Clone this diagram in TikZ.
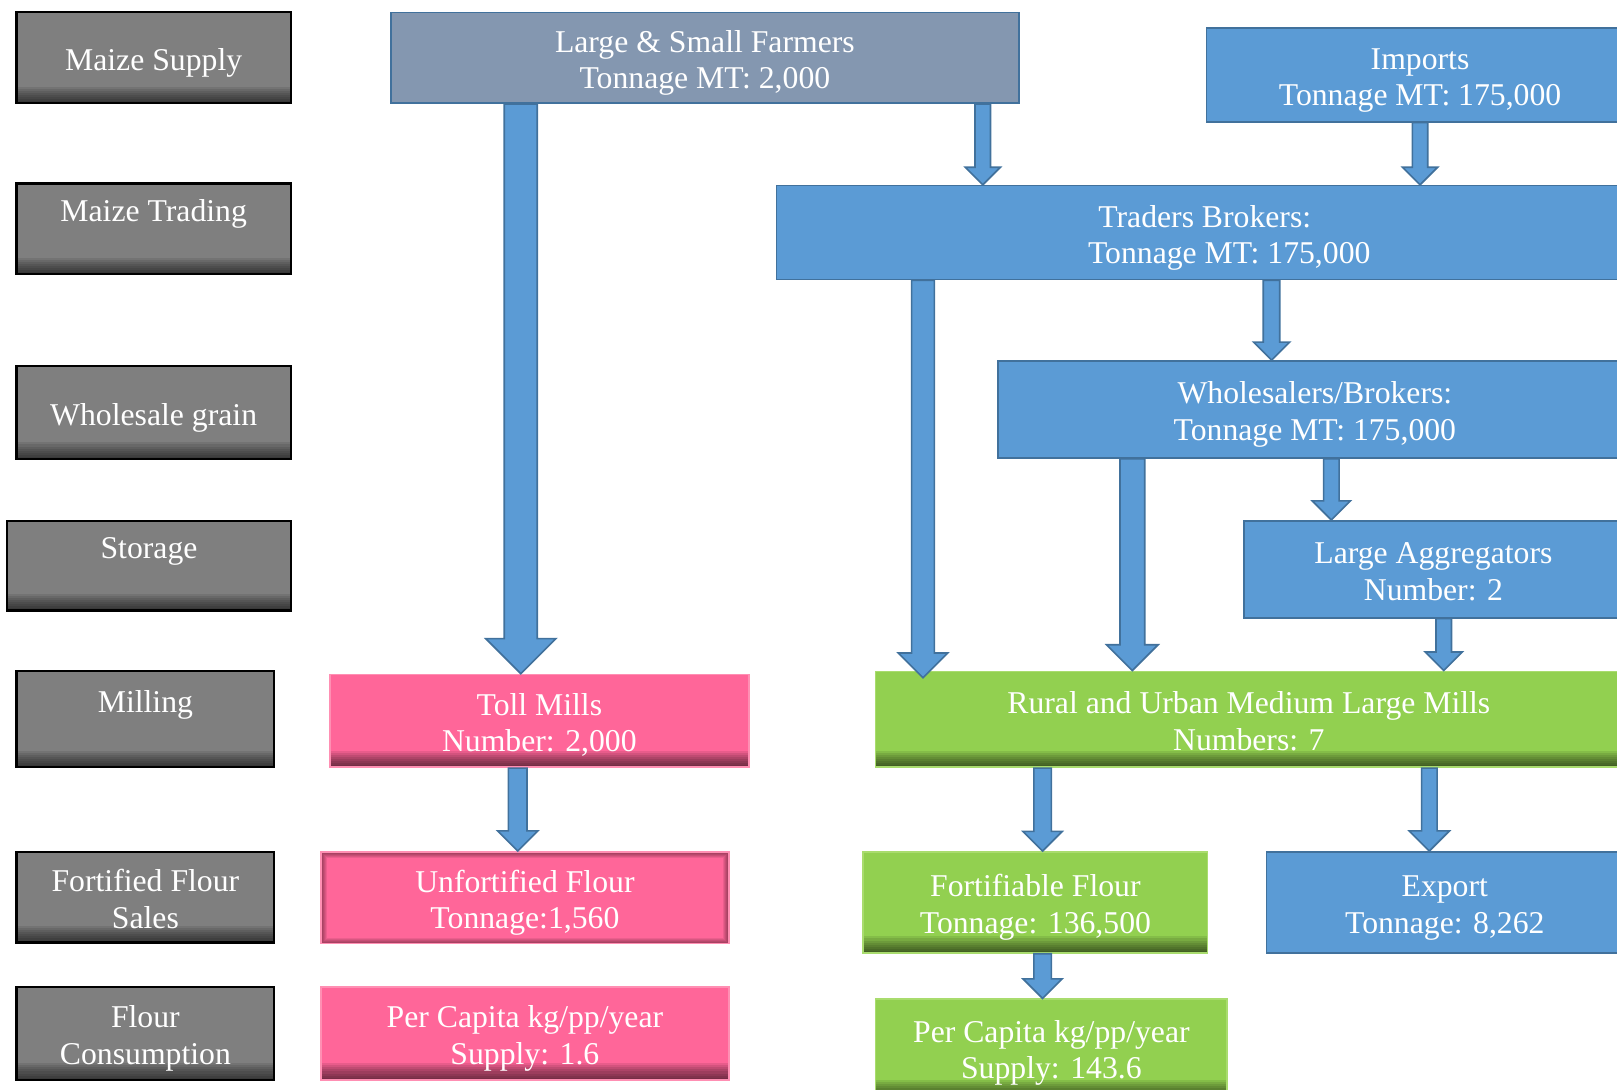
\documentclass[tikz,border=0pt]{standalone}
\usepackage{fontspec}
\setmainfont{Liberation Serif}
\usetikzlibrary{positioning}
\usetikzlibrary{calc}

\definecolor{stagegray}{HTML}{7F7F7F}
\definecolor{farmgray}{HTML}{8497B0}
\definecolor{flowblue}{HTML}{5B9BD5}
\definecolor{edgeblue}{HTML}{41719C}
\definecolor{millpink}{HTML}{FF6699}
\definecolor{pinkedge}{HTML}{FF8FB3}
\definecolor{millgreen}{HTML}{92D050}
\definecolor{greenedge}{HTML}{A9DC6E}

\newcommand{\liftheight}{38pt}

\tikzset{
  span/.style n args={4}{at={({(#1+#3)/2},{(#2+#4)/2})},
      minimum width=(#3-#1)*0.02cm, minimum height=(#4-#2)*0.02cm},
  lift/.code={\def\liftheight{#1}},
  bevel/.style={path picture={\foreach \k in {1,...,8}
      \fill[black, opacity=0.09] (path picture bounding box.south west)
        rectangle ([yshift=\k*0.04cm]path picture bounding box.south east);}},
  innershadow/.style={path picture={\foreach \k in {1,...,6}
      \draw[black, opacity=0.08, line width=\k*1.1pt] (path picture bounding box.south west)
        rectangle (path picture bounding box.north east);}},
  boxbase/.style={rectangle, inner sep=0pt, align=center, text=white, lift=38pt,
      execute at begin node={\rule{0pt}{\liftheight}},
      execute at end node={\rule[-4pt]{0pt}{0pt}}},
  stage/.style={boxbase, draw=black, line width=1.2pt, fill=stagegray, bevel},
  farm/.style={boxbase, draw=edgeblue, line width=0.9pt, fill=farmgray},
  bluebox/.style={boxbase, draw=edgeblue, line width=0.9pt, fill=flowblue},
  pinkbox/.style={boxbase, draw=pinkedge, line width=0.9pt, fill=millpink, bevel},
  greenbox/.style={boxbase, draw=greenedge, line width=0.9pt, fill=millgreen, bevel},
  flow/.style={draw=edgeblue, line width=0.9pt, fill=flowblue, line join=miter},
}

% block arrow: start, tip, half shaft width, half head width
\newcommand{\flowarrow}[4]{%
  \draw[flow] ($(#1)+(-#3,0)$) -- ($(#2)+(-#3,-#4)$) -- ($(#2)+(-#4,-#4)$) -- (#2)
    -- ($(#2)+(#4,-#4)$) -- ($(#2)+(#3,-#4)$) -- ($(#1)+(#3,0)$) -- cycle;}

\begin{document}
\begin{tikzpicture}[x=0.02cm, y=-0.02cm, font=\fontsize{17.5}{20}\selectfont]
                \useasboundingbox (0,0) rectangle (1568,1056);
                \clip (0,0) rectangle (1568,1056);

                % Stages on the left
                \node[stage, lift=18pt, span={16}{12}{282}{100}] (supply) {Maize Supply};
                \node[stage, span={16}{178}{282}{266}] (trading) {Maize Trading\\\strut};
                \node[stage, lift=18pt, span={16}{355}{282}{445}] (wholesale) {Wholesale grain};
                \node[stage, span={7}{505}{282}{592}] (storage) {Storage\\\strut};
                \node[stage, span={16}{651}{266}{744}] (milling) {Milling\\\strut};
                \node[stage, span={16}{826}{266}{914}] (sales) {Fortified Flour\\Sales};
                \node[stage, span={16}{957}{266}{1047}] (consumption) {Flour\\Consumption};

                % Supply chain
                \node[farm, span={379}{12}{988}{100}] (farmers) {Large \& Small Farmers\\Tonnage MT: 2,000};
                \node[bluebox, span={1170}{27}{1584}{118}] (imports) {Imports\\Tonnage MT: 175,000};
                \node[bluebox, span={753}{180}{1631}{271}] (traders) {Traders Brokers:\hspace{0.95cm}\mbox{}\\Tonnage MT: 175,000};
                \node[bluebox, span={968}{350}{1582}{444}] (wholesalers) {Wholesalers/Brokers:\\Tonnage MT: 175,000};
                \node[bluebox, span={1206}{505}{1574}{599}] (aggregators) {Large Aggregators\\Number: 2};
                \node[pinkbox, span={320}{654}{726}{744}] (toll) {Toll Mills\\Number: 2,000};
                \node[greenbox, span={849}{651}{1573}{744}] (mills) {Rural and Urban Medium Large Mills\\Numbers: 7};
                \node[pinkbox, innershadow, span={311}{826}{707}{915}] (unfortified) {Unfortified Flour\\Tonnage:1,560};
                \node[greenbox, span={837}{826}{1171}{924}] (fortifiable) {Fortifiable Flour\\Tonnage: 136,500};
                \node[bluebox, span={1228}{826}{1574}{924}] (export) {Export\\Tonnage: 8,262};
                \node[pinkbox, span={311}{957}{707}{1047}] (capitapink) {Per Capita kg/pp/year\\Supply: 1.6};
                \node[greenbox, span={849}{969}{1190}{1063}] (capitagreen) {Per Capita kg/pp/year\\Supply: 143.6};

                % Flows
                \coordinate (tradtip) at ($(mills.north -| 895,0)+(0,7)$);
                \flowarrow{farmers.south -| 505,0}{toll.north -| 505,0}{16}{34}
                \flowarrow{farmers.south -| 953,0}{traders.north -| 953,0}{7.5}{17}
                \flowarrow{imports.south -| 1377,0}{traders.north -| 1377,0}{7.5}{17}
                \flowarrow{traders.south -| 895,0}{tradtip}{11}{24}
                \flowarrow{traders.south -| 1233,0}{wholesalers.north -| 1233,0}{8}{17.5}
                \flowarrow{wholesalers.south -| 1098,0}{mills.north -| 1098,0}{12}{25}
                \flowarrow{wholesalers.south -| 1291,0}{aggregators.north -| 1291,0}{7.5}{18.5}
                \flowarrow{aggregators.south -| 1400,0}{mills.north -| 1400,0}{7.5}{18}
                \flowarrow{toll.south -| 502,0}{unfortified.north -| 502,0}{9}{19.5}
                \flowarrow{mills.south -| 1011,0}{fortifiable.north -| 1011,0}{8.5}{19}
                \flowarrow{mills.south -| 1386,0}{export.north -| 1386,0}{7.5}{19.5}
                \flowarrow{fortifiable.south -| 1011,0}{capitagreen.north -| 1011,0}{8.5}{19}

            \end{tikzpicture}
\end{document}
